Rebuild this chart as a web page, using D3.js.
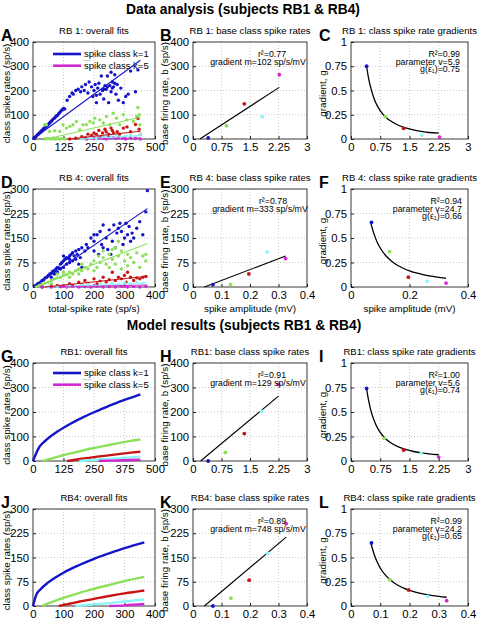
<!DOCTYPE html>
<html><head><meta charset="utf-8">
<script src="https://cdn.jsdelivr.net/npm/d3@7"></script>
<style>body{margin:0;background:#fff} svg{display:block} text{font-family:"Liberation Sans",Arial,sans-serif}</style>
</head><body><svg id="c" width="480" height="621"></svg>
<script>
const COLORS = ["#1414c8","#8ce05a","#c81414","#8cf5f5","#d228d2"];
const classLabels = ["spike class k=1","......","spike class k=5"];

// ---------- Panel A (RB1 data, overall fits)
const aBlue = [[3,2],[8,7],[12,10],[16,15],[20,19],[24,22],[28,27],[32,30],[36,35],[40,38],[44,43],[48,46],[52,50],[56,53],[60,58],[64,62],[68,66],[72,70],[76,74],[80,79],[85,84],[90,88],[95,95],[100,97],[105,104],[110,110],[115,116],[120,121],[125,126],[130,124],[140,160],[150,175],[160,190],[165,185],[175,200],[185,205],[195,195],[200,215],[210,200],[215,225],[225,190],[230,235],[240,215],[245,175],[250,200],[255,225],[260,150],[265,210],[270,230],[275,185],[280,260],[285,200],[290,165],[295,220],[300,205],[305,260],[310,150],[315,220],[320,195],[325,235],[330,215],[335,265],[340,185],[345,225],[350,160],[360,210],[370,150],[380,175],[390,185],[400,280],[420,195],[430,285],[325,210],[335,230],[305,215],[320,275],[260,180],[290,205]];
const aGreen = [[50,0],[60,2],[70,0],[80,3],[90,0],[100,1],[110,0],[120,2],[130,0],[48,59],[55,59],[68,31],[89,34],[110,31],[123,59],[137,45],[151,52],[164,59],[178,72],[192,38],[205,59],[219,59],[233,72],[247,66],[253,86],[274,79],[288,66],[301,93],[315,59],[329,106],[342,86],[356,59],[370,100],[384,79],[411,72],[425,93],[438,59],[430,130],[435,100]];
const aRed = [[150,0],[175,3],[200,10],[215,5],[225,20],[240,15],[250,25],[260,20],[270,35],[275,10],[285,25],[295,40],[300,30],[310,20],[320,45],[325,35],[330,25],[345,30],[355,20],[370,45],[385,50],[400,30],[420,60],[430,85],[435,40],[440,20]];
const aCyan = [[200,2],[230,5],[250,8],[270,12],[290,5],[300,15],[320,10],[340,18],[360,8],[380,12],[400,15],[420,10],[440,20],[260,0],[330,2]];
const aMagenta = [[220,0],[250,2],[270,5],[290,3],[300,0],[310,8],[330,5],[340,2],[350,6],[370,3],[380,0],[400,4],[420,2],[440,0]];
const aFitX = [[0,440],[55,440],[145,440],[200,440],[265,440]];
const aFitY = [[0,325],[0,90],[0,32],[0,14],[0,4]];

// ---------- Panel D (RB4 data, overall fits)
const dBlue = [[5,3],[10,5],[15,10],[20,12],[25,15],[30,20],[35,22],[40,28],[45,30],[50,35],[55,40],[60,42],[65,48],[70,50],[75,55],[80,60],[85,58],[90,70],[95,75],[100,80],[105,85],[110,90],[115,88],[120,95],[125,100],[130,105],[135,95],[140,110],[145,100],[150,115],[155,90],[160,120],[170,110],[60,30],[70,40],[80,45],[90,55],[100,60],[110,70],[120,75],[130,80],[140,85],[100,95],[120,85],[150,70],[160,60],[175,130],[190,150],[200,140],[210,160],[220,170],[225,130],[230,190],[240,150],[250,175],[260,140],[265,190],[270,120],[280,180],[290,170],[300,150],[305,195],[310,160],[320,140],[330,150],[340,180],[350,200],[360,160],[370,230],[375,295],[180,120],[200,110],[215,100],[230,120],[245,115],[255,100],[275,165],[285,195],[295,130],[315,185],[325,165],[200,160]];
const dGreen = [[10,2],[20,5],[30,10],[40,12],[50,15],[60,20],[70,25],[80,28],[90,30],[100,35],[110,38],[120,45],[130,40],[140,50],[150,55],[160,50],[170,60],[180,55],[190,70],[200,80],[210,60],[220,75],[230,90],[240,70],[250,100],[260,85],[270,120],[280,95],[290,110],[300,80],[310,100],[320,90],[330,75],[340,105],[350,60],[360,95],[370,80],[370,100],[230,110],[250,60],[270,70],[290,55],[310,65],[260,115],[280,140],[200,50],[215,95],[150,40],[160,70],[120,30],[100,45],[80,40],[60,10]];
const dRed = [[30,0],[60,2],[80,5],[100,3],[120,10],[130,5],[150,15],[160,8],[170,20],[180,12],[200,25],[210,10],[220,18],[230,30],[240,15],[250,22],[260,45],[270,20],[280,30],[290,25],[300,35],[305,15],[310,45],[320,30],[330,20],[340,28],[350,25],[360,30],[370,32]];
const dCyan = [[50,0],[80,2],[100,3],[120,5],[140,2],[160,6],[180,8],[200,4],[220,10],[240,6],[260,12],[280,8],[300,14],[320,10],[340,15],[360,12]];
const dMagenta = [[30,0],[60,0],[90,1],[110,0],[130,2],[150,0],[170,1],[190,0],[210,2],[230,0],[250,1],[270,0],[290,2],[310,0],[330,1],[350,0],[370,2],[100,3],[200,4],[300,3]];
const dFitX = [[0,375],[7,375],[40,375],[105,375],[85,375]];
const dFitY = [[0,240],[0,133],[0,33],[0,13],[0,6]];

// ---------- Panels B, E, H, K (base rates)
const bAmp = [0.4,0.88,1.35,1.82,2.27];
const bBase = [5,55,145,92,265];
const bLineX = [0.18,2.27], bLineY = [0,213];
const eAmp = [0.07,0.132,0.196,0.26,0.325];
const eBase = [7,7,40,107,87];
const eLineX = [0.04,0.325], eLineY = [0,95];
const hAmp = [0.4,0.85,1.35,1.8,2.25];
const hBase = [0,35,112,203,313];
const hLineX = [0.2,2.25], hLineY = [0,265];
const kAmp = [0.07,0.133,0.197,0.262,0.327];
const kBase = [0,24,80,163,255];
const kLineX = [0.04,0.327], kLineY = [0,213];

// ---------- Panels C, F, I, L (gradients)
const cGrad = [0.75,0.23,0.11,0.04,0.02];
const cCurveX = [0.4,0.45,0.5,0.6,0.7,0.8,0.9,1.0,1.2,1.4,1.6,1.8,2.0,2.25];
const cCurveY = [0.75,0.628,0.537,0.408,0.324,0.265,0.222,0.19,0.144,0.115,0.094,0.079,0.067,0.06];
const fGrad = [0.66,0.36,0.10,0.06,0.04];
const fCurveX = [0.068,0.08,0.09,0.1,0.12,0.14,0.16,0.18,0.2,0.22,0.25,0.28,0.3,0.325];
const fCurveY = [0.65,0.529,0.455,0.398,0.316,0.26,0.219,0.189,0.165,0.146,0.124,0.108,0.099,0.089];
const iGrad = [0.74,0.23,0.11,0.08,0.04];
const iCurveX = [0.4,0.45,0.5,0.6,0.7,0.8,0.9,1.0,1.2,1.4,1.6,1.8,2.0,2.25];
const iCurveY = [0.74,0.62,0.53,0.405,0.322,0.265,0.223,0.192,0.147,0.118,0.097,0.083,0.072,0.064];
const lGrad = [0.65,0.27,0.165,0.10,0.055];
const lCurveX = [0.068,0.08,0.09,0.1,0.12,0.14,0.16,0.18,0.2,0.22,0.25,0.28,0.3,0.327];
const lCurveY = [0.65,0.525,0.45,0.392,0.31,0.255,0.214,0.185,0.162,0.144,0.123,0.107,0.099,0.09];

// ---------- Panels G, J (model curves)
const gCurves = [
  [[0,0],[25,56],[50,82],[100,120],[150,150],[200,176],[250,199],[300,220],[350,240],[400,258],[440,272]],
  [[40,0],[100,17],[150,30],[200,42],[250,53],[300,63],[350,73],[400,82],[440,88]],
  [[140,0],[200,9],[250,16],[300,22],[350,28],[400,34],[440,38]],
  [[190,0],[250,4],[300,8],[350,11],[400,15],[440,18]],
  [[270,0],[320,1.5],[370,3],[440,5]]
];
const jCurves = [
  [[0,0],[10,33],[25,52],[50,73],[75,89],[100,103],[150,126],[200,146],[250,163],[300,179],[365,197]],
  [[30,0],[50,8],[100,25],[150,40],[200,53],[250,65],[300,77],[365,90]],
  [[85,0],[120,7],[150,13],[200,22],[250,31],[300,39],[365,48]],
  [[140,0],[200,5],[250,9],[300,14],[365,20]],
  [[250,0],[300,2],[365,6]]
];

// tick values / labels
const ticksRate500 = [0,125,250,375,500], ticksRate400 = [0,100,200,300,400];
const ticksY400 = [0,100,200,300,400], ticksY300 = [0,75,150,225,300];
const ticksAmp3 = [0,0.75,1.5,2.25,3], ticksAmp3L = ["0","0.75","1.5","2.25","3"];
const ticksAmp04 = [0,0.1,0.2,0.3,0.4], ticksAmp04L = ["0","0.1","0.2","0.3","0.4"];
const ticksAmp04b = [0,0.2,0.4], ticksAmp04bL = ["0","0.2","0.4"];
const ticksG = [0,0.25,0.5,0.75,1], ticksGL = ["0","0.25","0.5","0.75","1"];

// ---------- layout
const svg = d3.select('#c');
const COLS = [{l:33,r:155},{l:193,r:307},{l:351,r:468}];
const ROWS = [{t:42,b:139},{t:189,b:287},{t:363,b:461},{t:509,b:606}];

function panel(ci, ri, xd, yd, xt, xl, yt, yl, letter, title, ylab, xlab){
  const c = COLS[ci], r = ROWS[ri];
  const x = d3.scaleLinear().domain(xd).range([c.l,c.r]);
  const y = d3.scaleLinear().domain(yd).range([r.b,r.t]);
  const g = svg.append('g');
  g.selectAll('.gx').data(xt.filter(v=>v>xd[0]&&v<xd[1])).join('line')
    .attr('x1',d=>x(d)).attr('x2',d=>x(d)).attr('y1',r.t).attr('y2',r.b)
    .attr('stroke','#bbb').attr('stroke-width',0.8).attr('stroke-dasharray','1,2');
  g.selectAll('.gy').data(yt.filter(v=>v>yd[0]&&v<yd[1])).join('line')
    .attr('y1',d=>y(d)).attr('y2',d=>y(d)).attr('x1',c.l).attr('x2',c.r)
    .attr('stroke','#bbb').attr('stroke-width',0.8).attr('stroke-dasharray','1,2');
  const ax = g.append('g').attr('transform',`translate(0,${r.b})`)
    .call(d3.axisBottom(x).tickValues(xt).tickFormat((d,i)=>xl[i]).tickSizeInner(-3).tickSizeOuter(0).tickPadding(4));
  const ay = g.append('g').attr('transform',`translate(${c.l},0)`)
    .call(d3.axisLeft(y).tickValues(yt).tickFormat((d,i)=>yl[i]).tickSizeInner(-3).tickSizeOuter(0).tickPadding(4));
  [ax,ay].forEach(a=>{a.select('.domain').remove(); a.attr('font-family',null).attr('font-size',11.3);
    a.selectAll('text').attr('fill','#000'); a.selectAll('line').attr('stroke','#222');});
  g.append('rect').attr('x',c.l).attr('y',r.t).attr('width',c.r-c.l).attr('height',r.b-r.t)
    .attr('fill','none').attr('stroke','#222').attr('stroke-width',0.9);
  svg.append('text').attr('x',[1,160,319][ci]).attr('y',r.t-1).attr('font-size',16).attr('font-weight','bold').text(letter);
  svg.append('text').attr('x',(c.l+c.r)/2).attr('y',r.t-8).attr('text-anchor','middle').attr('font-size',9.6).text(title);
  svg.append('text').attr('transform',`translate(${[10,168,326][ci]},${(r.t+r.b)/2+3}) rotate(-90)`)
    .attr('text-anchor','middle').attr('font-size',9.8).text(ylab);
  if(xlab) svg.append('text').attr('x',(c.l+c.r)/2).attr('y',r.b+25).attr('text-anchor','middle').attr('font-size',9.8).text(xlab);
  return {x,y,g,c,r};
}

function dots(p, pts, color, rad){
  p.g.append('g').selectAll('circle').data(pts).join('circle')
    .attr('cx',d=>p.x(d[0])).attr('cy',d=>p.y(d[1])).attr('r',rad).attr('fill',color);
}
function seg(p, xs, ys, color, w){
  p.g.append('line').attr('x1',p.x(xs[0])).attr('y1',p.y(ys[0])).attr('x2',p.x(xs[1])).attr('y2',p.y(ys[1]))
    .attr('stroke',color).attr('stroke-width',w);
}
function curve(p, pts, color, w){
  p.g.append('path').datum(pts).attr('d',d3.line().x(d=>p.x(d[0])).y(d=>p.y(d[1])).curve(d3.curveMonotoneX))
    .attr('fill','none').attr('stroke',color).attr('stroke-width',w);
}
function note(p, lines, xx, anchor){
  lines.forEach((t,i)=>p.g.append('text').attr('x',xx).attr('y',p.r.t+15+i*7.5)
    .attr('text-anchor',anchor).attr('font-size',8.8).text(t));
}
function note2(p, xx, t){
  p.g.append('text').attr('x',xx).attr('y',p.r.t+23).attr('text-anchor','middle').attr('font-size',8.8).text(t);
}
function legend(p, y0){
  const x0 = 53;
  p.g.append('line').attr('x1',x0).attr('x2',x0+28).attr('y1',y0).attr('y2',y0).attr('stroke',COLORS[0]).attr('stroke-width',2.6);
  p.g.append('text').attr('x',x0+31).attr('y',y0+3.3).attr('font-size',9.5).text(classLabels[0]);
  p.g.append('text').attr('x',x0+30).attr('y',y0+6.6).attr('font-size',5).text(classLabels[1]);
  p.g.append('line').attr('x1',x0).attr('x2',x0+28).attr('y1',y0+11.7).attr('y2',y0+11.7).attr('stroke',COLORS[4]).attr('stroke-width',2.6);
  p.g.append('text').attr('x',x0+31).attr('y',y0+15).attr('font-size',9.5).text(classLabels[2]);
}

// Titles
svg.append('text').attr('x',243).attr('y',14).attr('text-anchor','middle').attr('font-size',13.8).attr('font-weight','bold').text('Data analysis (subjects RB1 & RB4)');
svg.append('text').attr('x',244).attr('y',330).attr('text-anchor','middle').attr('font-size',13.8).attr('font-weight','bold').text('Model results (subjects RB1 & RB4)');

const ylab1 = 'class spike rates (sp/s)', ylab2 = 'base firing rate, b (sp/s)', ylab3 = 'gradient, g';

// A
const pA = panel(0,0,[0,500],[0,400],ticksRate500,ticksRate500.map(String),ticksY400,ticksY400.map(String),'A','RB 1: overall fits',ylab1);
legend(pA, 54);
[aBlue,aGreen,aRed,aCyan,aMagenta].forEach((s,i)=>dots(pA,s,COLORS[i],1.7));
aFitX.forEach((xs,i)=>seg(pA,xs,aFitY[i],COLORS[i],1.1));
// B
const pB = panel(1,0,[0,3],[0,400],ticksAmp3,ticksAmp3L,ticksY400,ticksY400.map(String),'B','RB 1: base class spike rates',ylab2);
seg(pB,bLineX,bLineY,'#000',1.1);
bAmp.forEach((a,i)=>dots(pB,[[a,bBase[i]]],COLORS[i],1.9));
note(pB,['r²=0.77'],272,'middle'); note2(pB,258,'gradient m=102 sp/s/mV');
// C
const pC = panel(2,0,[0,3],[0,1],ticksAmp3,ticksAmp3L,ticksG,ticksGL,'C','RB 1: class spike rate gradients',ylab3);
curve(pC,cCurveX.map((v,i)=>[v,cCurveY[i]]),'#000',1.3);
bAmp.forEach((a,i)=>dots(pC,[[a,cGrad[i]]],COLORS[i],1.9));
note(pC,['R²=0.99','parameter v=5.9','g(ε₁)=0.75'],460,'end');
// D
const pD = panel(0,1,[0,400],[0,300],ticksRate400,ticksRate400.map(String),ticksY300,ticksY300.map(String),'D','RB 4: overall fits',ylab1,'total-spike rate (sp/s)');
[dBlue,dGreen,dRed,dCyan,dMagenta].forEach((s,i)=>dots(pD,s,COLORS[i],1.7));
dFitX.forEach((xs,i)=>seg(pD,xs,dFitY[i],COLORS[i],1.1));
// E
const pE = panel(1,1,[0,0.4],[0,300],ticksAmp04,ticksAmp04L,ticksY300,ticksY300.map(String),'E','RB 4: base class spike rates',ylab2,'spike amplitude (mV)');
seg(pE,eLineX,eLineY,'#000',1.1);
eAmp.forEach((a,i)=>dots(pE,[[a,eBase[i]]],COLORS[i],1.9));
note(pE,['r²=0.78'],273,'middle'); note2(pE,260,'gradient m=333 sp/s/mV');
// F
const pF = panel(2,1,[0,0.4],[0,1],ticksAmp04b,ticksAmp04bL,ticksG,ticksGL,'F','RB 4: class spike rate gradients',ylab3,'spike amplitude (mV)');
curve(pF,fCurveX.map((v,i)=>[v,fCurveY[i]]),'#000',1.3);
eAmp.forEach((a,i)=>dots(pF,[[a,fGrad[i]]],COLORS[i],1.9));
note(pF,['R²=0.94','parameter v=24.7','g(ε₁)=0.66'],462,'end');
// G
const pG = panel(0,2,[0,500],[0,400],ticksRate500,ticksRate500.map(String),ticksY400,ticksY400.map(String),'G','RB1: overall fits',ylab1);
legend(pG, 373);
gCurves.forEach((cv,i)=>curve(pG,cv,COLORS[i],2.4));
// H
const pH = panel(1,2,[0,3],[0,400],ticksAmp3,ticksAmp3L,ticksY400,ticksY400.map(String),'H','RB1: base class spike rates',ylab2);
seg(pH,hLineX,hLineY,'#000',1.1);
hAmp.forEach((a,i)=>dots(pH,[[a,hBase[i]]],COLORS[i],1.9));
note(pH,['r²=0.91'],272,'middle'); note2(pH,258,'gradient m=129 sp/s/mV');
// I
const pI = panel(2,2,[0,3],[0,1],ticksAmp3,ticksAmp3L,ticksG,ticksGL,'I','RB1: class spike rate gradients',ylab3);
curve(pI,iCurveX.map((v,i)=>[v,iCurveY[i]]),'#000',1.3);
hAmp.forEach((a,i)=>dots(pI,[[a,iGrad[i]]],COLORS[i],1.9));
note(pI,['R²=1.00','parameter v=5.6','g(ε₁)=0.74'],460,'end');
// J
const pJ = panel(0,3,[0,400],[0,300],ticksRate400,ticksRate400.map(String),ticksY300,ticksY300.map(String),'J','RB4: overall fits',ylab1);
jCurves.forEach((cv,i)=>curve(pJ,cv,COLORS[i],2.4));
// K
const pK = panel(1,3,[0,0.4],[0,300],ticksAmp04,ticksAmp04L,ticksY300,ticksY300.map(String),'K','RB4: base class spike rates',ylab2);
seg(pK,kLineX,kLineY,'#000',1.1);
kAmp.forEach((a,i)=>dots(pK,[[a,kBase[i]]],COLORS[i],1.9));
note(pK,['r²=0.89'],272,'middle'); note2(pK,258,'gradient m=748 sp/s/mV');
// L
const pL = panel(2,3,[0,0.4],[0,1],ticksAmp04,ticksAmp04L,ticksG,ticksGL,'L','RB4: class spike rate gradients',ylab3);
curve(pL,lCurveX.map((v,i)=>[v,lCurveY[i]]),'#000',1.3);
kAmp.forEach((a,i)=>dots(pL,[[a,lGrad[i]]],COLORS[i],1.9));
note(pL,['R²=0.99','parameter v=24.2','g(ε₁)=0.65'],462,'end');
</script></body></html>
